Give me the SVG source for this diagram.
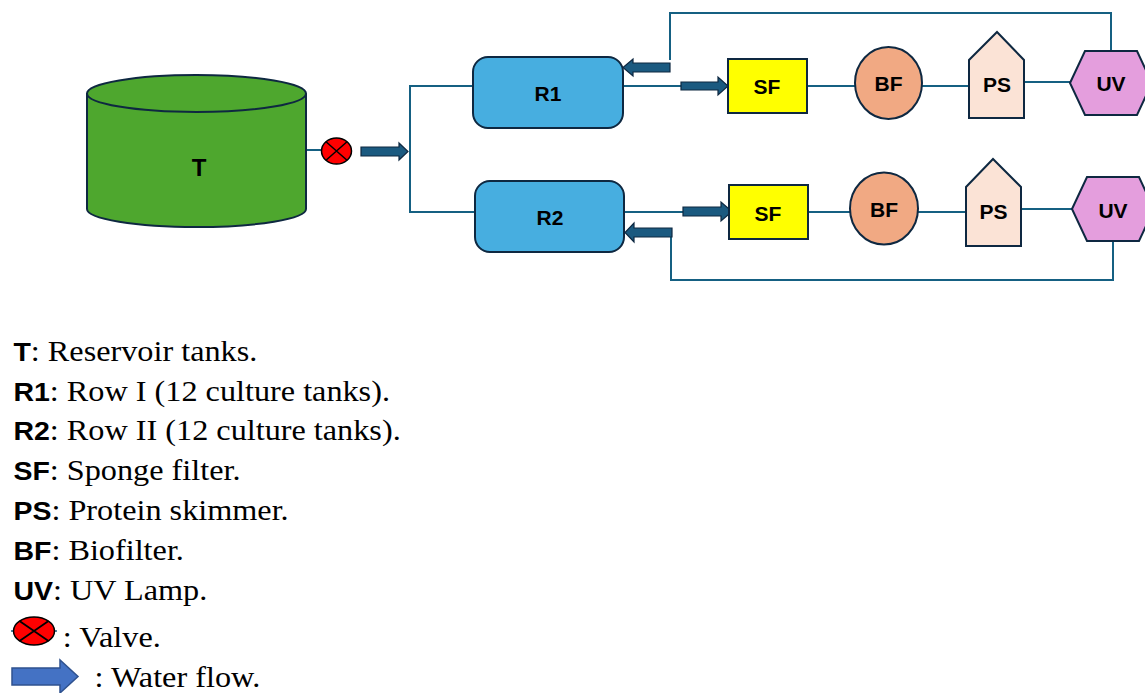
<svg xmlns="http://www.w3.org/2000/svg" width="1145" height="693" viewBox="0 0 1145 693">
<style>
.node{stroke:#0e2841;stroke-width:2}
.lbl{font-family:"Liberation Sans",Arial,sans-serif;font-weight:bold;font-size:21px;fill:#000;text-anchor:middle;dominant-baseline:central}
.pipe{fill:none;stroke:#156082;stroke-width:2}
.flow{fill:#1b5a80;stroke:#0e2841;stroke-width:1.2}
.lb{font-family:"Liberation Sans",Arial,sans-serif;font-weight:bold;font-size:26.5px;fill:#000}
.lt{font-family:"Liberation Serif","Times New Roman",serif;font-size:30px;fill:#000}
</style>
<rect width="1145" height="693" fill="#fff"/>
<g id="connectors">
<line class="pipe" x1="306" y1="150" x2="322" y2="150"/>
<path class="pipe" d="M473,86 H410 V212 H475"/>
<line class="pipe" x1="623" y1="86" x2="681" y2="86"/>
<line class="pipe" x1="624" y1="212" x2="683" y2="212"/>
<line class="pipe" x1="807" y1="86" x2="855" y2="86"/>
<line class="pipe" x1="922" y1="86" x2="969" y2="86"/>
<line class="pipe" x1="1024" y1="82" x2="1070" y2="82"/>
<line class="pipe" x1="808" y1="212" x2="850" y2="212"/>
<line class="pipe" x1="918" y1="212" x2="966" y2="212"/>
<line class="pipe" x1="1021" y1="209" x2="1072" y2="209"/>
<path class="pipe" d="M670,60 V13 H1111 V51"/>
<path class="pipe" d="M1113,241 V280 H671 V236"/>
<path class="flow" d="M361,147 H399 V143 L408,151.5 L399,160 V156 H361 Z"/>
<path class="flow" d="M681,82 H718 V77 L728,86 L718,95 V90 H681 Z"/>
<path class="flow" d="M683,207 H721 V202 L732,211.5 L721,221 V216 H683 Z"/>
<path class="flow" d="M670,63 H633 V59 L623,67.5 L633,76 V72 H670 Z"/>
<path class="flow" d="M672,228 H634 V223 L625,232.5 L634,242 V237 H672 Z"/>
</g>
<g id="T">
<path class="node" fill="#4ea72e" d="M87,93.5 V209 A109.5,18 0 0 0 306,209 V93.5"/>
<ellipse class="node" fill="#4ea72e" cx="196.5" cy="93.5" rx="109.5" ry="18.5"/>
<text class="lbl" x="199" y="167" style="font-size:24px">T</text>
</g>
<g id="valve">
<ellipse cx="336.5" cy="151" rx="15" ry="13" fill="#ff0000" stroke="#000" stroke-width="1.5"/>
<path d="M326,141.8 L347,160.2 M347,141.8 L326,160.2" stroke="#000" stroke-width="1.5"/>
</g>
<g id="R1">
<rect class="node" x="473" y="57" width="150" height="71" rx="15" fill="#47aee0"/>
<text class="lbl" x="548" y="93">R1</text>
</g>
<g id="R2">
<rect class="node" x="475" y="181" width="149" height="71" rx="15" fill="#47aee0"/>
<text class="lbl" x="550" y="217">R2</text>
</g>
<g id="SF1">
<rect class="node" x="728" y="59" width="79" height="54" fill="#ffff00"/>
<text class="lbl" x="767" y="86">SF</text>
</g>
<g id="SF2">
<rect class="node" x="729" y="185" width="79" height="54" fill="#ffff00"/>
<text class="lbl" x="768" y="213">SF</text>
</g>
<g id="BF1">
<ellipse class="node" cx="888.5" cy="83" rx="33.5" ry="36" fill="#f1a983"/>
<text class="lbl" x="888.5" y="83">BF</text>
</g>
<g id="BF2">
<ellipse class="node" cx="884" cy="208.5" rx="34" ry="36" fill="#f1a983"/>
<text class="lbl" x="884" y="209">BF</text>
</g>
<g id="PS1">
<path class="node" fill="#fbe3d6" d="M969,60 L997,32 L1024,60 V118 H969 Z"/>
<text class="lbl" x="997" y="84">PS</text>
</g>
<g id="PS2">
<path class="node" fill="#fbe3d6" d="M966,187 L993,159 L1021,187 V246 H966 Z"/>
<text class="lbl" x="993.5" y="211">PS</text>
</g>
<g id="UV1">
<path class="node" fill="#e49edd" d="M1070,83 L1085,51 H1137 L1152,83 L1137,115 H1085 Z"/>
<text class="lbl" x="1111" y="83">UV</text>
</g>
<g id="UV2">
<path class="node" fill="#e49edd" d="M1072,209 L1087,177 H1139 L1154,209 L1139,241 H1087 Z"/>
<text class="lbl" x="1113" y="210">UV</text>
</g>
<g id="legend">
<g transform="scale(1.075,1)">
<text x="12.5" y="361.5"><tspan class="lb">T</tspan><tspan class="lt">: Reservoir tanks.</tspan></text>
<text x="12.5" y="401"><tspan class="lb">R1</tspan><tspan class="lt">: Row I (12 culture tanks).</tspan></text>
<text x="12.5" y="440.5"><tspan class="lb">R2</tspan><tspan class="lt">: Row II (12 culture tanks).</tspan></text>
<text x="12.5" y="480.5"><tspan class="lb">SF</tspan><tspan class="lt">: Sponge filter.</tspan></text>
<text x="12.5" y="520.5"><tspan class="lb">PS</tspan><tspan class="lt">: Protein skimmer.</tspan></text>
<text x="12.5" y="560.5"><tspan class="lb">BF</tspan><tspan class="lt">: Biofilter.</tspan></text>
<text x="12.5" y="600"><tspan class="lb">UV</tspan><tspan class="lt">: UV Lamp.</tspan></text>
<text class="lt" x="58.5" y="647">: Valve.</text>
<text class="lt" x="88" y="687">: Water flow.</text>
</g>
<line x1="11" y1="631" x2="57" y2="631" stroke="#156082" stroke-width="1.5"/>
<ellipse cx="34" cy="631" rx="20.5" ry="14" fill="#ff0000" stroke="#000" stroke-width="1.5"/>
<path d="M19.5,621 L48.5,641 M48.5,621 L19.5,641" stroke="#000" stroke-width="1.8"/>
<path d="M12,668 H60 V660 L78,676.5 L60,693 V685 H12 Z" fill="#4472c4" stroke="#2f528f" stroke-width="1.5"/>
</g>
</svg>
